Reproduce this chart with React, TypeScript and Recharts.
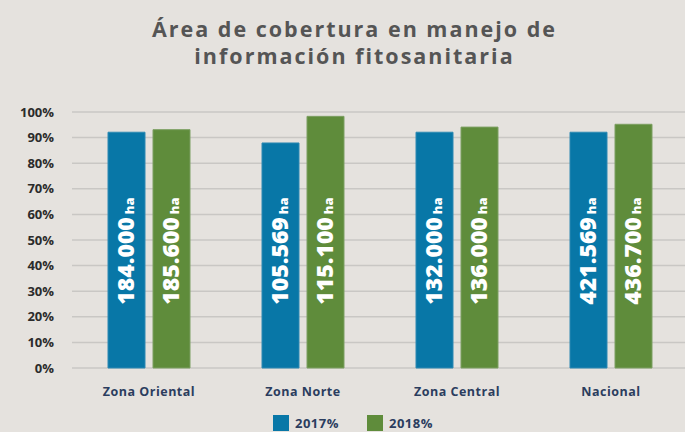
import React from 'react';
import { BarChart, Bar, XAxis, YAxis, CartesianGrid, LabelList } from 'recharts';

const categories = ['Zona Oriental', 'Zona Norte', 'Zona Central', 'Nacional'];
const pct2017 = [92.1, 87.9, 92.1, 92.1];
const pct2018 = [93.1, 98.3, 94.1, 95.2];
const ha2017 = ['184.000', '105.569', '132.000', '421.569'];
const ha2018 = ['185.600', '115.100', '136.000', '436.700'];
const yTicks = [0, 10, 20, 30, 40, 50, 60, 70, 80, 90, 100];
const seriesNames = ['2017%', '2018%'];
const titleLines = ['Área de cobertura en manejo de', 'información fitosanitaria'];

const BG = '#e5e2de';
const BLUE = '#0877a7';
const GREEN = '#5f8c3b';
const NAVY = '#2b3d5e';
const FONT = '"Open Sans", sans-serif';

const data = categories.map((name, i) => ({
  name,
  p2017: pct2017[i],
  p2018: pct2018[i],
  ha2017: ha2017[i],
  ha2018: ha2018[i],
}));

const haLabel = (props: any) => {
  const { x, y, width, height, value } = props;
  const cx = Number(x) + Number(width) / 2 + 7.5;
  const cy = Number(y) + Number(height) - 117;
  return (
    <text
      x={cx}
      y={cy}
      transform={`rotate(-90, ${cx}, ${cy})`}
      textAnchor="middle"
      fill="#ffffff"
      fontFamily={FONT}
      fontWeight={800}
      fontSize={23}
    >
      <tspan>{value}</tspan>
      <tspan fontSize={13} dx={3}>ha</tspan>
    </text>
  );
};

export default function App() {
  return (
    <div
      style={{
        position: 'absolute',
        left: 0,
        top: 0,
        width: 685,
        height: 432,
        background: BG,
        overflow: 'hidden',
        fontFamily: FONT,
      }}
    >
      {titleLines.map((line, i) => (
        <div
          key={line}
          style={{
            position: 'absolute',
            top: 15 + i * 27,
            left: 12,
            width: 685,
            height: 27,
            textAlign: 'center',
            fontSize: 21.5,
            lineHeight: '27px',
            fontWeight: 700,
            letterSpacing: 2,
            color: '#555555',
            whiteSpace: 'nowrap',
          }}
        >
          {line}
        </div>
      ))}

      <BarChart
        width={688}
        height={432}
        data={data}
        margin={{ top: 112, right: 0, bottom: 0, left: 0 }}
        barGap={8}
        style={{ position: 'absolute', left: 0, top: 0 }}
      >
        <CartesianGrid vertical={false} stroke="#c9c7c4" strokeWidth={1.5} />
        <XAxis
          dataKey="name"
          height={64}
          axisLine={false}
          tickLine={false}
          tickSize={0}
          tickMargin={19}
          tick={{ fontSize: 12.5, fontWeight: 700, fill: NAVY, fontFamily: FONT, letterSpacing: 0.5 }}
        />
        <YAxis
          width={72}
          domain={[0, 100]}
          ticks={yTicks}
          tickFormatter={(v: number) => `${v}%`}
          axisLine={false}
          tickLine={false}
          tickSize={0}
          tickMargin={18}
          tick={{ fontSize: 13, fontWeight: 700, fill: '#2b2b2b', fontFamily: FONT }}
        />
        <Bar dataKey="p2017" fill={BLUE} stroke="#2c89b3" strokeWidth={1} barSize={37} isAnimationActive={false}>
          <LabelList dataKey="ha2017" content={haLabel} />
        </Bar>
        <Bar dataKey="p2018" fill={GREEN} stroke="#7c9f62" strokeWidth={1} barSize={37} isAnimationActive={false}>
          <LabelList dataKey="ha2018" content={haLabel} />
        </Bar>
      </BarChart>

      <div
        style={{
          position: 'absolute',
          top: 415,
          left: 273,
          display: 'flex',
          alignItems: 'center',
          fontSize: 13,
          fontWeight: 700,
          color: NAVY,
          letterSpacing: 0.5,
        }}
      >
        {seriesNames.map((s, i) => (
          <div key={s} style={{ display: 'flex', alignItems: 'center', marginRight: 28 }}>
            <span style={{ width: 16, height: 16, background: i === 0 ? BLUE : GREEN, marginRight: 6 }} />
            <span style={{ lineHeight: '16px' }}>{s}</span>
          </div>
        ))}
      </div>
    </div>
  );
}
